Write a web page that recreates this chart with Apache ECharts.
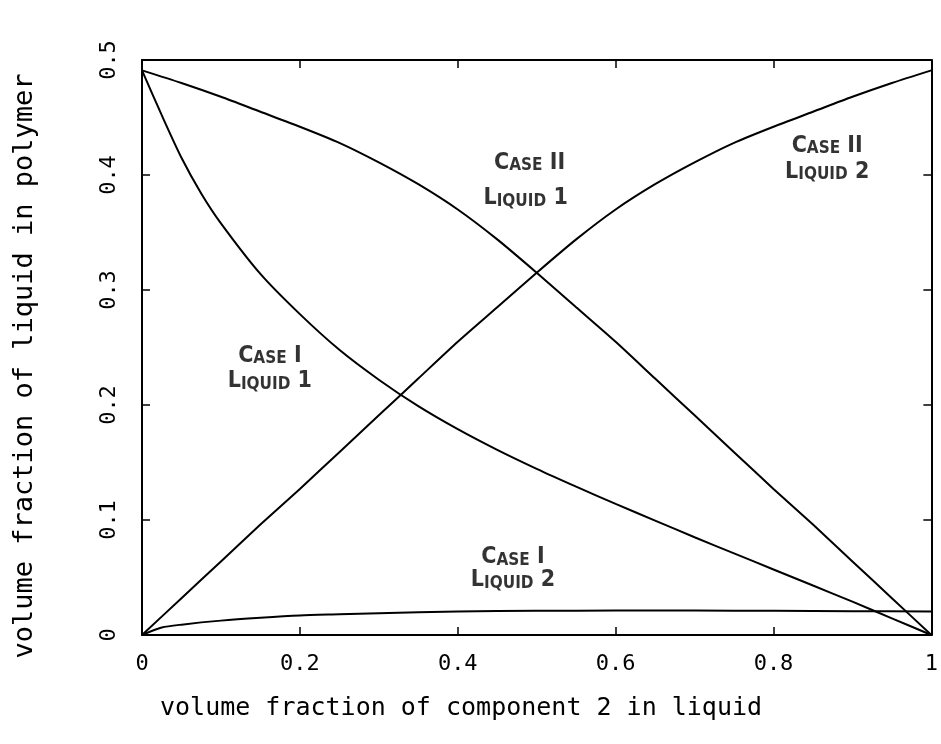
<!DOCTYPE html>
<html>
<head>
<meta charset="utf-8">
<script src="https://cdn.jsdelivr.net/npm/echarts@6/dist/echarts.min.js"></script>
<style>
html,body{margin:0;padding:0;background:#fff;}
#main{width:941px;height:744px;}
</style>
</head>
<body>
<div id="main"></div>
<script>
// ---- data ----
const xTicks = [0, 0.2, 0.4, 0.6, 0.8, 1];
const yTicks = [0, 0.1, 0.2, 0.3, 0.4, 0.5];

const caseIIX = [0,0.05,0.1,0.15,0.2,0.25,0.3,0.35,0.4,0.45,0.5,0.55,0.6,0.65,0.7,0.75,0.8,0.85,0.9,0.95,1];
const caseIILiquid1 = [0.491,0.480,0.468,0.455,0.442,0.428,0.411,0.392,0.370,0.344,0.315,0.285,0.255,0.223,0.191,0.159,0.127,0.096,0.064,0.032,0.0];
const caseIILiquid2 = [0.0,0.032,0.064,0.096,0.127,0.159,0.191,0.223,0.255,0.285,0.315,0.344,0.370,0.392,0.411,0.428,0.442,0.455,0.468,0.480,0.491];

const caseIL1X = [0,0.025,0.05,0.075,0.1,0.15,0.2,0.25,0.3,0.35,0.4,0.45,0.5,0.55,0.6,0.65,0.7,0.75,0.8,0.85,0.9,0.95,1];
const caseILiquid1 = [0.491,0.452,0.415,0.384,0.358,0.314,0.279,0.248,0.222,0.199,0.179,0.161,0.1445,0.129,0.114,0.0995,0.085,0.071,0.057,0.043,0.029,0.0145,0.0];

const caseIL2X = [0,0.025,0.05,0.1,0.15,0.2,0.25,0.3,0.4,0.5,0.6,0.7,0.8,0.9,1];
const caseILiquid2 = [0,0.0065,0.009,0.0125,0.015,0.017,0.018,0.019,0.0205,0.021,0.0213,0.0213,0.021,0.0207,0.0205];

const noteTexts = ['Case II','Liquid 1','Case II','Liquid 2','Case I','Liquid 1','Case I','Liquid 2'];
const noteX = [0.491,0.486,0.868,0.868,0.162,0.162,0.470,0.470];
const noteY = [0.411,0.380,0.426,0.403,0.243,0.221,0.068,0.048];

const xTitle = 'volume fraction of component 2 in liquid';
const yTitle = 'volume fraction of liquid in polymer';

// ---- chart ----
const pairs = (xs, ys) => xs.map((x, i) => [x, ys[i]]);
const mono = '"DejaVu Sans Mono", "Liberation Mono", monospace';
const narrow = '"Liberation Sans Narrow", "DejaVu Sans Condensed", sans-serif';

function smallCaps(t) {
  return t.split(' ').map(w => /^[IVX0-9]+$/.test(w)
    ? '{b|' + w + '}'
    : '{b|' + w[0] + '}{s|' + w.slice(1).toUpperCase() + '}').join('{b| }');
}

const lineStyle = {color: '#000', width: 2};
function lineSeries(name, data) {
  return {
    name: name, type: 'line', data: data, showSymbol: false, symbol: 'none',
    smooth: 0.25, lineStyle: lineStyle, silent: true,
    xAxisIndex: 0, yAxisIndex: 0
  };
}

const axisCommon = {
  type: 'value',
  axisLine: {show: true, onZero: false, lineStyle: {color: '#000', width: 2}},
  axisTick: {show: true, inside: true, length: 8, lineStyle: {color: '#000', width: 1.5}},
  splitLine: {show: false}
};

const chart = echarts.init(document.getElementById('main'), null, {renderer: 'canvas'});
chart.setOption({
  backgroundColor: '#fff',
  animation: false,
  grid: {left: 142, right: 3, top: 60, bottom: 109, containLabel: false},
  xAxis: [
    Object.assign({}, axisCommon, {
      position: 'bottom', min: xTicks[0], max: xTicks[xTicks.length - 1], interval: 0.2,
      axisLabel: {show: true, margin: 18, color: '#000', fontSize: 22, fontFamily: mono,
        formatter: v => String(+v.toFixed(1))}
    }),
    Object.assign({}, axisCommon, {
      position: 'top', min: xTicks[0], max: xTicks[xTicks.length - 1], interval: 0.2,
      axisLabel: {show: false}
    })
  ],
  yAxis: [
    Object.assign({}, axisCommon, {
      position: 'left', min: yTicks[0], max: yTicks[yTicks.length - 1], interval: 0.1,
      axisLabel: {show: true, rotate: 90, margin: 22, color: '#000', fontSize: 22, fontFamily: mono,
        formatter: v => String(+v.toFixed(1))}
    }),
    Object.assign({}, axisCommon, {
      position: 'right', min: yTicks[0], max: yTicks[yTicks.length - 1], interval: 0.1,
      axisLabel: {show: false}
    })
  ],
  graphic: [
    {type: 'text', left: 160, top: 696, silent: true,
      style: {text: xTitle, fill: '#000', font: '25px ' + mono}},
    {type: 'text', x: 25, y: 366, rotation: Math.PI / 2, silent: true,
      style: {text: yTitle, fill: '#000', font: '27px ' + mono, align: 'center', verticalAlign: 'middle'}}
  ],
  series: [
    lineSeries('Case II Liquid 1', pairs(caseIIX, caseIILiquid1)),
    lineSeries('Case II Liquid 2', pairs(caseIIX, caseIILiquid2)),
    lineSeries('Case I Liquid 1', pairs(caseIL1X, caseILiquid1)),
    lineSeries('Case I Liquid 2', pairs(caseIL2X, caseILiquid2)),
    {
      type: 'scatter', symbolSize: 0, silent: true, xAxisIndex: 0, yAxisIndex: 0,
      data: noteTexts.map((t, i) => ({name: t, value: [noteX[i], noteY[i]]})),
      label: {
        show: true, position: 'inside', color: '#000',
        formatter: p => smallCaps(p.name),
        rich: {
          b: {fontSize: 23, fontFamily: narrow, fontWeight: 'bold', color: '#000', lineHeight: 24, verticalAlign: 'bottom'},
          s: {fontSize: 17, fontFamily: narrow, fontWeight: 'bold', color: '#000', lineHeight: 24, verticalAlign: 'bottom'}
        }
      }
    }
  ]
});
</script>
</body>
</html>
